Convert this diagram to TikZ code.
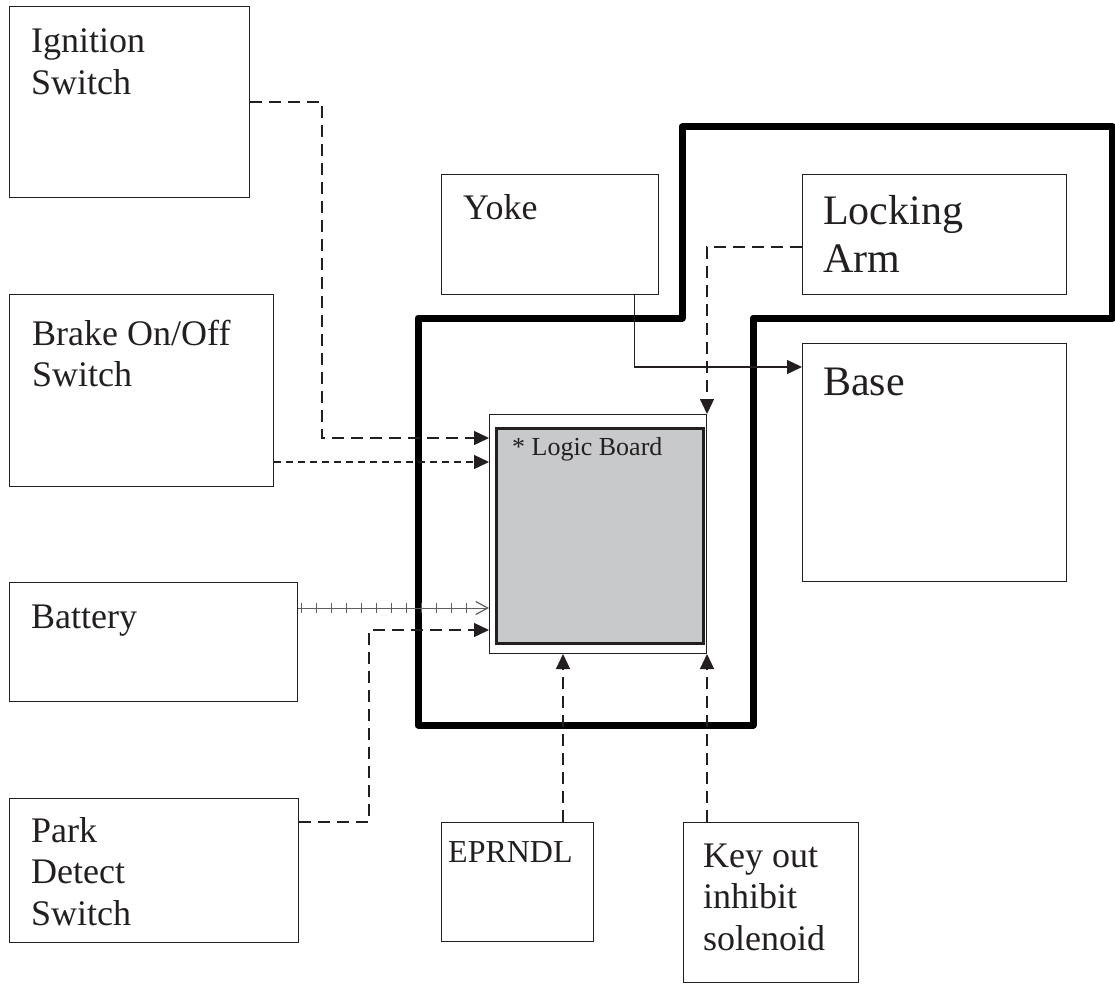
\documentclass[tikz,border=0pt]{standalone}
\usepackage{fontspec}
\setmainfont{Liberation Serif}
\usetikzlibrary{arrows.meta,positioning,calc,decorations.markings}
\definecolor{ink}{RGB}{35,31,32}
\definecolor{boardgray}{RGB}{200,201,203}
\definecolor{wiregray}{RGB}{95,95,95}

\tikzset{
  unitbox/.style={draw=ink, line width=1.3pt, anchor=north west, inner sep=0pt},
  lbl/.style={anchor=base west, inner sep=0pt, text=ink, font=\fontsize{36}{41.5}\selectfont},
  biglbl/.style={lbl, font=\fontsize{42}{48}\selectfont},
  sig/.style={draw=ink, line width=1.3pt, dash pattern=on 12pt off 7pt,
    -{Triangle[length=15pt,width=14pt]}},
  sigfine/.style={sig, dash pattern=on 7pt off 5pt},
  link/.style={draw=ink, line width=1.3pt, -{Triangle[length=15pt,width=14pt]}},
  power/.style={draw=wiregray, line width=1pt,
    -{Straight Barb[length=12pt,width=13pt,line width=1.2pt]},
    postaction={decorate},
    decoration={markings,
      mark=between positions 3pt and 172pt step 15pt with {\draw[-, wiregray, line width=1pt] (0,-5pt) -- (0,5pt);}}},
  housing/.style={draw=black, line width=7pt, line join=round}
}

\begin{document}
\begin{tikzpicture}[x=1pt, y=-1pt]
  \useasboundingbox (0,0) rectangle (1115,992);

  % housing outline
  \draw[housing] (418,318) -- (682,318) -- (682,127) -- (1112,127)
    -- (1112,318) -- (753,318) -- (753,725) -- (418,725) -- cycle;

  % inputs on the left
  \node[unitbox, minimum width=240pt, minimum height=191pt] (ign) at (9,6) {};
  \node[lbl] (ign-t) at (31,53) {\begin{tabular}[t]{@{}l@{}}Ignition\\Switch\end{tabular}};

  \node[unitbox, minimum width=264pt, minimum height=192pt] (brk) at (9,294) {};
  \node[lbl] (brk-t) at (32,345) {\begin{tabular}[t]{@{}l@{}}Brake On/Off\\Switch\end{tabular}};

  \node[unitbox, minimum width=288pt, minimum height=119pt] (bat) at (9,582) {};
  \node[lbl] (bat-t) at (31,628) {Battery};

  \node[unitbox, minimum width=289pt, minimum height=144pt] (park) at (9,798) {};
  \node[lbl] (park-t) at (31,842) {\begin{tabular}[t]{@{}l@{}}Park\\Detect\\Switch\end{tabular}};

  % mechanical parts
  \node[unitbox, minimum width=217pt, minimum height=120pt] (yoke) at (441,174) {};
  \node[lbl] (yoke-t) at (463,220) {Yoke};

  \node[unitbox, minimum width=264pt, minimum height=120pt] (lock) at (802,174) {};
  \node[biglbl] (lock-t) at (823,225) {\begin{tabular}[t]{@{}l@{}}Locking\\Arm\end{tabular}};

  \node[unitbox, minimum width=264pt, minimum height=238pt] (base) at (802,343) {};
  \node[biglbl] (base-t) at (823,395) {Base};

  % bottom inputs
  \node[unitbox, minimum width=152pt, minimum height=119pt] (epr) at (441,822) {};
  \node[lbl, font=\fontsize{32}{37}\selectfont] (epr-t) at (448,862) {EPRNDL};

  \node[unitbox, minimum width=175pt, minimum height=160pt] (key) at (683,822) {};
  \node[lbl] (key-t) at (703,867) {\begin{tabular}[t]{@{}l@{}}Key out\\inhibit\\solenoid\end{tabular}};

  % logic board
  \node[draw=ink, line width=1pt, anchor=north west, inner sep=0pt,
        minimum width=217pt, minimum height=239pt] (lbo) at (489,414) {};
  \node[draw=ink, fill=boardgray, line width=2.6pt, anchor=north west, inner sep=0pt,
        minimum width=207pt, minimum height=215pt] (lbi) at (495,427) {};
  \node[lbl, font=\fontsize{26}{30}\selectfont] (lb-t) at (512,455) {* Logic Board};

  % connectors
  \coordinate (ig-bend) at (322,438);
  \draw[sig] (ign.east) -| (ig-bend) -- (ig-bend -| lbo.west);

  \coordinate (bk-in) at ($(lbo.north west)+(0,48)$);
  \draw[sigfine] (bk-in -| brk.east) -- (bk-in);

  \coordinate (bt-in) at ($(lbo.north west)+(0,194)$);
  \draw[power] (bt-in -| bat.east) -- (bt-in);

  \coordinate (pk-in) at ($(lbo.north west)+(0,216)$);
  \coordinate (pk-out) at ($(park.north east)+(0,24)$);
  \draw[sig] (pk-out) -| ($(pk-in)+(-120,0)$) -- (pk-in);

  \coordinate (ep-in) at ($(lbo.south west)+(74,0)$);
  \draw[sig] (ep-in |- epr.north) -- (ep-in);
  \draw[sig] (lbo.south east |- key.north) -- (lbo.south east);

  \coordinate (lk-out) at ($(lock.north west)+(0,73)$);
  \draw[sig] (lk-out) -| (lbo.north east);

  \coordinate (yk-out) at ($(yoke.south east)+(-25,0)$);
  \coordinate (yk-in) at ($(base.north west)+(0,24)$);
  \draw[link] (yk-out) |- (yk-in);
\end{tikzpicture}
\end{document}
